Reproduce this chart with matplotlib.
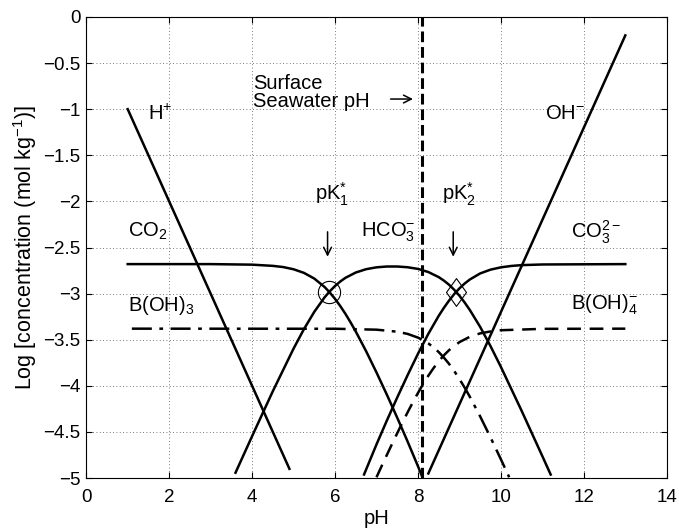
import matplotlib
matplotlib.use("Agg")
import matplotlib.pyplot as plt
from matplotlib.path import Path

plt.rcParams['font.family'] = ['Liberation Sans', 'DejaVu Sans']
plt.rcParams['mathtext.fontset'] = 'custom'
plt.rcParams['mathtext.rm'] = 'Liberation Sans'
plt.rcParams['mathtext.it'] = 'Liberation Sans'
plt.rcParams['axes.unicode_minus'] = True

# ---- data ----
h_ph = [1.0, 4.9]
h_log = [-1.0, -4.9]

oh_ph = [8.25, 13.0]
oh_log = [-4.95, -0.2]

co2_ph = [1.0, 3.0, 4.0, 4.5, 4.75, 5.0, 5.25, 5.5, 5.75, 5.875, 6.0, 6.125, 6.25,
          6.375, 6.5, 6.75, 7.0, 7.25, 7.5, 7.75, 8.0, 8.1]
co2_log = [-2.68, -2.68, -2.686, -2.699, -2.712, -2.736, -2.775, -2.837, -2.929, -2.989,
           -3.057, -3.134, -3.219, -3.312, -3.411, -3.625, -3.855, -4.096, -4.346,
           -4.604, -4.872, -4.983]

hco3_ph = [3.6, 4.0, 4.5, 5.0, 5.25, 5.5, 5.75, 5.875, 6.0, 6.125, 6.25, 6.5, 6.75,
           7.0, 7.25, 7.5, 7.75, 8.0, 8.25, 8.5, 8.625, 8.75, 8.875, 9.0, 9.125, 9.25,
           9.5, 9.75, 10.0, 10.5, 11.0, 11.2]
hco3_log = [-4.942, -4.546, -4.058, -3.596, -3.385, -3.197, -3.039, -2.974, -2.917,
            -2.869, -2.829, -2.771, -2.735, -2.715, -2.706, -2.706, -2.714, -2.732,
            -2.766, -2.821, -2.859, -2.904, -2.959, -3.023, -3.096, -3.177, -3.361,
            -3.570, -3.795, -4.271, -4.763, -4.962]

co3_ph = [6.7, 7.0, 7.25, 7.5, 7.75, 8.0, 8.25, 8.5, 8.625, 8.75, 8.875, 9.0, 9.125,
          9.25, 9.5, 9.75, 10.0, 10.25, 10.5, 11.0, 13.0]
co3_log = [-4.961, -4.635, -4.376, -4.126, -3.884, -3.652, -3.436, -3.241, -3.154,
           -3.075, -3.004, -2.943, -2.891, -2.847, -2.781, -2.740, -2.715, -2.700,
           -2.691, -2.684, -2.68]

boh3_ph = [1.1, 6.0, 7.0, 7.5, 7.75, 8.0, 8.125, 8.25, 8.375, 8.5, 8.625, 8.75, 8.875,
           9.0, 9.125, 9.25, 9.5, 9.75, 10.0, 10.2]
boh3_log = [-3.38, -3.381, -3.391, -3.413, -3.437, -3.477, -3.506, -3.540, -3.583,
            -3.634, -3.694, -3.762, -3.840, -3.926, -4.019, -4.118, -4.332, -4.560,
            -4.797, -4.991]

boh4_ph = [7.0, 7.125, 7.25, 7.375, 7.5, 7.625, 7.75, 7.875, 8.0, 8.125, 8.25, 8.375,
           8.5, 8.625, 8.75, 9.0, 9.25, 9.5, 9.75, 10.0, 11.0, 13.0]
boh4_log = [-4.991, -4.869, -4.749, -4.630, -4.513, -4.399, -4.287, -4.180, -4.077,
            -3.980, -3.890, -3.808, -3.734, -3.669, -3.613, -3.526, -3.468, -3.431,
            -3.410, -3.397, -3.382, -3.38]

surface_ph = 8.1
pk1 = (5.86, -2.98)
pk2 = (8.92, -2.98)

xticks = [0, 2, 4, 6, 8, 10, 12, 14]
yticks = [0, -0.5, -1, -1.5, -2, -2.5, -3, -3.5, -4, -4.5, -5]
yticklabels = ['0', '\u22120.5', '\u22121', '\u22121.5', '\u22122', '\u22122.5',
               '\u22123', '\u22123.5', '\u22124', '\u22124.5', '\u22125']

# ---- figure ----
fig = plt.figure(figsize=(6.79, 5.30), dpi=100)
ax = fig.add_axes([0.127, 0.098, 0.855, 0.870])

lw = 1.8
ax.plot(h_ph, h_log, color='black', lw=lw)
ax.plot(oh_ph, oh_log, color='black', lw=lw)
ax.plot(co2_ph, co2_log, color='black', lw=lw)
ax.plot(hco3_ph, hco3_log, color='black', lw=lw)
ax.plot(co3_ph, co3_log, color='black', lw=lw)
ax.plot(boh3_ph, boh3_log, color='black', lw=lw, ls=(0, (8, 3, 1.5, 3)))
ax.plot(boh4_ph, boh4_log, color='black', lw=lw, ls=(0, (5.5, 3.5)))
ax.axvline(surface_ph, color='black', lw=2.2, ls=(0, (3.5, 1.6)))

ax.plot([pk1[0]], [pk1[1]], marker='o', ms=16, mfc='none', mec='black', mew=0.8)
diamond = Path([(0, 1), (0.72, 0), (0, -1), (-0.72, 0), (0, 1)],
               [Path.MOVETO, Path.LINETO, Path.LINETO, Path.LINETO, Path.CLOSEPOLY])
ax.plot([pk2[0]], [pk2[1]], marker=diamond, ms=20, mfc='none', mec='black', mew=0.8)

fs = 14.5
ax.text(1.5, -1.05, 'H$^{+}$', fontsize=fs, va='center', ha='left')
ax.text(1.0, -2.33, 'CO$_{2}$', fontsize=fs, va='center', ha='left')
ax.text(1.0, -3.13, 'B(OH)$_{3}$', fontsize=fs, va='center', ha='left')
ax.text(4.03, -0.82, 'Surface\nSeawater pH', fontsize=fs, va='center', ha='left',
        linespacing=0.92)
ax.text(5.52, -1.92, 'pK$_{1}^{*}$', fontsize=fs, va='center', ha='left')
ax.text(6.63, -2.33, 'HCO$_{3}^{-}$', fontsize=fs, va='center', ha='left')
ax.text(8.58, -1.92, 'pK$_{2}^{*}$', fontsize=fs, va='center', ha='left')
ax.text(11.06, -1.05, 'OH$^{-}$', fontsize=fs, va='center', ha='left')
ax.text(11.7, -2.33, 'CO$_{3}^{2-}$', fontsize=fs, va='center', ha='left')
ax.text(11.7, -3.12, 'B(OH)$_{4}^{-}$', fontsize=fs, va='center', ha='left')

arrow = dict(arrowstyle='->', lw=1.1, color='black', mutation_scale=14,
             shrinkA=0, shrinkB=0)
ax.annotate('', xy=(7.88, -0.89), xytext=(7.34, -0.89), arrowprops=arrow)
ax.annotate('', xy=(5.82, -2.60), xytext=(5.82, -2.33), arrowprops=arrow)
ax.annotate('', xy=(8.85, -2.60), xytext=(8.85, -2.33), arrowprops=arrow)

ax.set_xlim(0, 14)
ax.set_ylim(-5, 0)
ax.set_xticks(xticks)
ax.set_xticklabels([str(t) for t in xticks])
ax.set_yticks(yticks)
ax.set_yticklabels(yticklabels)
ax.tick_params(direction='in', length=4, width=0.8, labelsize=13.5,
               top=True, right=True)
ax.tick_params(axis='x', pad=8)
ax.tick_params(axis='y', pad=4)
ax.grid(True, ls=(0, (1, 3)), color='black', lw=0.6, alpha=0.7)
for s in ax.spines.values():
    s.set_linewidth(0.8)

ax.set_xlabel('pH', fontsize=14.5, labelpad=2)
ax.set_ylabel('Log [concentration (mol kg$^{-1}$)]', fontsize=15.5, labelpad=3)

fig.savefig('out.png', dpi=100)
